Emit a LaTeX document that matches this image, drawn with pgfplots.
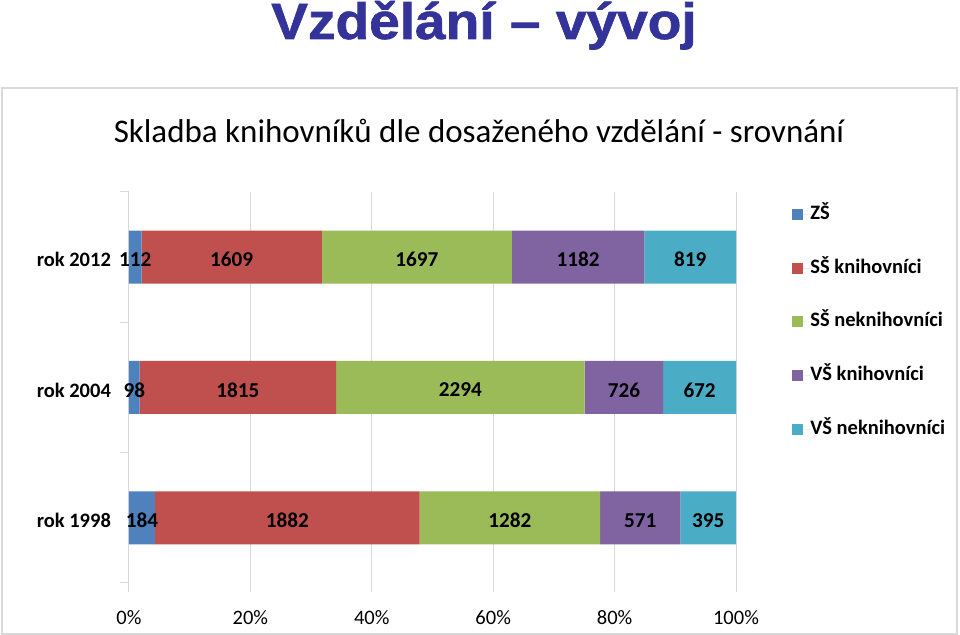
\documentclass[border=0pt]{standalone}
\usepackage{fontspec}
\setmainfont{Carlito}
\newfontfamily\titlefont{Liberation Sans}[BoldFeatures={FakeBold=1.2}]
\usepackage{pgfplots}
\pgfplotsset{compat=1.18}
\definecolor{zs}{HTML}{4F81BD}
\definecolor{ssk}{HTML}{C0504D}
\definecolor{ssn}{HTML}{9BBB59}
\definecolor{vsk}{HTML}{8064A2}
\definecolor{vsn}{HTML}{4BACC6}
\definecolor{gridgray}{HTML}{D9D9D9}
\definecolor{titleblue}{HTML}{333399}
\newcommand\lbl{\fontsize{10.25}{12}\selectfont}
\pgfplotsset{
  frame/.style={
    at={(64.5pt,26pt)}, anchor=south west,
    scale only axis, width=303.5pt, height=195.5pt,
    xmin=0, xmax=100, ymin=-0.5, ymax=2.5,
  },
}
\begin{document}
\begin{tikzpicture}[x=0.5pt,y=0.5pt]
\useasboundingbox (0,0) rectangle (960,635);
\draw[gridgray, line width=0.6pt] (2,1) rectangle (957,547);
\node[anchor=base, inner sep=0, text=titleblue, xscale=1.08,
  font=\titlefont\bfseries\fontsize{25.5}{27}\selectfont] at (484,596) {Vzdělání – vývoj};
\node[anchor=base, inner sep=0, font=\fontsize{16.5}{18}\selectfont] at (479,492)
  {Skladba knihovníků dle dosaženého vzdělání - srovnání};

% bars (shares of each year's total)
\begin{axis}[
  frame,
  xbar stacked, bar width=26.5pt,
  axis lines*=left, axis line style={draw=none},
  xtick={0,20,40,60,80,100},
  xticklabels={0\%,20\%,40\%,60\%,80\%,100\%},
  xmajorgrids, grid style={gridgray, line width=0.5pt},
  tick align=outside, major tick length=4.5pt,
  tick style={gridgray, line width=0.5pt},
  ytick={-0.5,0.5,1.5,2.5},
  y tick label as interval,
  yticklabels={rok 1998,rok 2004,rok 2012},
  yticklabel style={font=\lbl\bfseries, xshift=-1pt, yshift=-1.3pt},
  xticklabel style={font=\lbl, yshift=-5.5pt},
  legend style={at={(1,1)}, anchor=north west, xshift=28pt, yshift=-6.5pt,
    draw=none, fill=none, inner sep=0pt, row sep=17.85pt,
    font=\lbl\bfseries,
    nodes={inner sep=0pt, anchor=west, text height=7pt, text depth=2pt}},
  legend cell align=left,
  legend image code/.code={
    \fill[#1] (0pt,-2.75pt) rectangle (5.5pt,2.75pt);
    \path (0pt,0pt) -- (9pt,0pt);},
]
\addplot[fill=zs, draw=none]  coordinates {(4.265,0) (1.748,1) (2.067,2)};
\addplot[fill=ssk, draw=none] coordinates {(43.625,0) (32.382,1) (29.692,2)};
\addplot[fill=ssn, draw=none] coordinates {(29.717,0) (40.928,1) (31.316,2)};
\addplot[fill=vsk, draw=none] coordinates {(13.236,0) (12.953,1) (21.812,2)};
\addplot[fill=vsn, draw=none] coordinates {(9.156,0) (11.989,1) (15.114,2)};
\legend{ZŠ, SŠ knihovníci, SŠ neknihovníci, VŠ knihovníci, VŠ neknihovníci}
\end{axis}

% counts, centred on their segments
\begin{axis}[frame, hide axis]
\addplot[draw=none, nodes near coords, point meta=explicit symbolic,
  every node near coord/.append style={anchor=center, inner sep=0pt,
    yshift=-1.2pt, text=black, font=\fontsize{10.6}{12}\selectfont\bfseries}]
  coordinates {
    (2.133,0) [184]  (26.078,0) [1882] (62.749,0) [1282] (84.225,0) [571]  (95.422,0) [395]
    (0.874,1) [98]   (17.939,1) [1815] (54.594,1) [2294] (81.535,1) [726]  (94.006,1) [672]
    (1.034,2) [112]  (16.913,2) [1609] (47.417,2) [1697] (73.981,2) [1182] (92.444,2) [819]
  };
\end{axis}
\end{tikzpicture}
\end{document}
